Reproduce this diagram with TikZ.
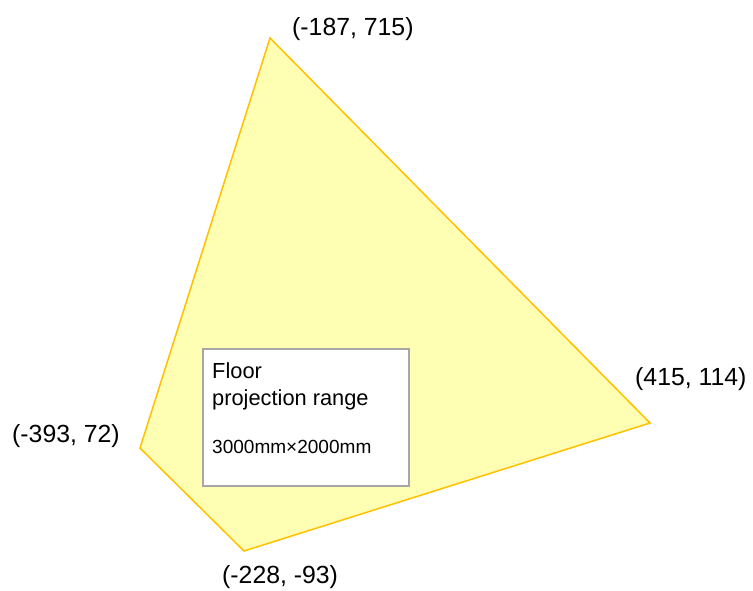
\documentclass[tikz,border=0pt]{standalone}
\usepackage{fontspec}
\setmainfont{Liberation Sans}
\definecolor{fillyel}{HTML}{FFFFB3}
\definecolor{edgeyel}{HTML}{FFC000}
\definecolor{boxgray}{HTML}{A6A6A6}
\begin{document}
\begin{tikzpicture}[x=1bp,y=-1bp,
  coordlabel/.style={anchor=base west,inner sep=0pt,font=\fontsize{24.9}{29}\selectfont},
  boxtext/.style={anchor=base west,inner sep=0pt,font=\fontsize{21.9}{26}\selectfont},
  smalltext/.style={anchor=base west,inner sep=0pt,font=\fontsize{19.1}{23}\selectfont}]
\useasboundingbox (0,0) rectangle (753,591);
\coordinate (T) at (270,38);
\coordinate (R) at (650,423);
\coordinate (B) at (244,551);
\coordinate (L) at (140,448);
\filldraw[fill=fillyel,draw=edgeyel,line width=1.5bp,line join=miter] (T) -- (R) -- (B) -- (L) -- cycle;
\node[draw=boxgray,fill=white,line width=1.5bp,minimum width=206bp,minimum height=137bp,inner sep=0pt,anchor=north west] (box) at (202,348) {};
\node[boxtext] (t1) at (212,378) {Floor};
\node[boxtext] (t2) at (212,405) {projection range};
\node[smalltext] (t3) at (212,453) {3000mm×2000mm};
\node[coordlabel] (lT) at (292,36) {(-187, 715)};
\node[coordlabel] (lL) at (12,442) {(-393, 72)};
\node[coordlabel] (lB) at (222,583) {(-228, -93)};
\node[coordlabel] (lR) at (635,385) {(415, 114)};
\end{tikzpicture}
\end{document}
